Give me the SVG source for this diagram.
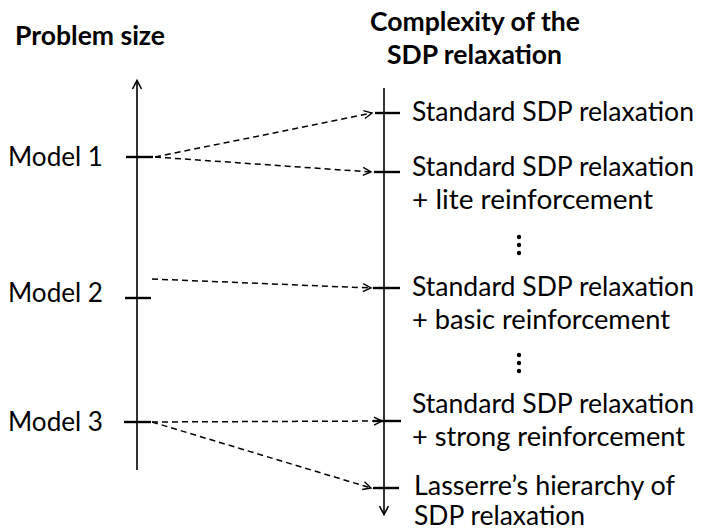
<svg xmlns="http://www.w3.org/2000/svg" width="701" height="531" viewBox="0 0 701 531">
<defs>
<style>
.t{font-family:Lato,"Open Sans","Liberation Sans",sans-serif;font-size:26px;fill:#000}
.h{font-weight:bold}
.ax{stroke:#000;stroke-width:1.6;fill:none}
.tk{stroke:#000;stroke-width:2.4;fill:none}
.dl{stroke:#000;stroke-width:1.5;fill:none;stroke-dasharray:6 4}
.dot{fill:#000}
</style>
<marker id="ah" markerWidth="12" markerHeight="12" refX="9" refY="5" orient="auto" markerUnits="userSpaceOnUse">
<path d="M1,1 L9,5 L1,9" fill="none" stroke="#000" stroke-width="1.4"/>
</marker>
</defs>
<rect width="701" height="531" fill="#fff"/>
<g id="headers">
<text class="t h" x="15" y="45" textLength="150" lengthAdjust="spacingAndGlyphs">Problem size</text>
<text class="t h" x="370" y="31" textLength="210" lengthAdjust="spacingAndGlyphs">Complexity of the</text>
<text class="t h" x="387" y="64" textLength="175" lengthAdjust="spacingAndGlyphs">SDP relaxation</text>
</g>
<g id="left-axis">
<path class="ax" d="M137,81 V470"/>
<path class="ax" d="M132.5,89 L137,80.5 L141.5,89"/>
</g>
<g id="right-axis">
<path class="ax" d="M384,88 V514"/>
<path class="ax" d="M379.5,506 L384,514.5 L388.5,506"/>
</g>
<g id="model1">
<path class="tk" d="M126,157 H153"/>
<text class="t" x="8" y="166" textLength="95" lengthAdjust="spacingAndGlyphs">Model 1</text>
</g>
<g id="model2">
<path class="tk" d="M125,298 H151"/>
<text class="t" x="8" y="302" textLength="95" lengthAdjust="spacingAndGlyphs">Model 2</text>
</g>
<g id="model3">
<path class="tk" d="M124,422 H151"/>
<text class="t" x="8" y="431" textLength="95" lengthAdjust="spacingAndGlyphs">Model 3</text>
</g>
<g id="level1">
<path class="tk" d="M375,113 H400"/>
<text class="t" x="412" y="121" textLength="282" lengthAdjust="spacingAndGlyphs">Standard SDP relaxation</text>
</g>
<g id="level2">
<path class="tk" d="M374,172 H400"/>
<text class="t" x="412" y="176" textLength="282" lengthAdjust="spacingAndGlyphs">Standard SDP relaxation</text>
<text class="t" x="412" y="209" textLength="241" lengthAdjust="spacingAndGlyphs">+ lite reinforcement</text>
</g>
<g id="dots1">
<circle class="dot" cx="519" cy="237" r="2.2"/>
<circle class="dot" cx="519" cy="245" r="2.2"/>
<circle class="dot" cx="519" cy="253" r="2.2"/>
</g>
<g id="level3">
<path class="tk" d="M373,288 H400"/>
<text class="t" x="412" y="296" textLength="282" lengthAdjust="spacingAndGlyphs">Standard SDP relaxation</text>
<text class="t" x="412" y="329" textLength="258" lengthAdjust="spacingAndGlyphs">+ basic reinforcement</text>
</g>
<g id="dots2">
<circle class="dot" cx="519" cy="355" r="2.2"/>
<circle class="dot" cx="519" cy="363" r="2.2"/>
<circle class="dot" cx="519" cy="371" r="2.2"/>
</g>
<g id="level4">
<path class="tk" d="M373,421 H401"/>
<text class="t" x="412" y="413" textLength="282" lengthAdjust="spacingAndGlyphs">Standard SDP relaxation</text>
<text class="t" x="412" y="446" textLength="273" lengthAdjust="spacingAndGlyphs">+ strong reinforcement</text>
</g>
<g id="level5">
<path class="tk" d="M373,488 H399"/>
<text class="t" x="414" y="495" textLength="261" lengthAdjust="spacingAndGlyphs">Lasserre’s hierarchy of</text>
<text class="t" x="414" y="525" textLength="171" lengthAdjust="spacingAndGlyphs">SDP relaxation</text>
</g>
<g id="connectors">
<path class="dl" d="M155,157 L372,113" marker-end="url(#ah)"/>
<path class="dl" d="M155,157 L371,172" marker-end="url(#ah)"/>
<path class="dl" d="M152,279 L371,288" marker-end="url(#ah)"/>
<path class="dl" d="M152,422 L382,421" marker-end="url(#ah)"/>
<path class="dl" d="M152,422 L371,488" marker-end="url(#ah)"/>
</g>
</svg>
